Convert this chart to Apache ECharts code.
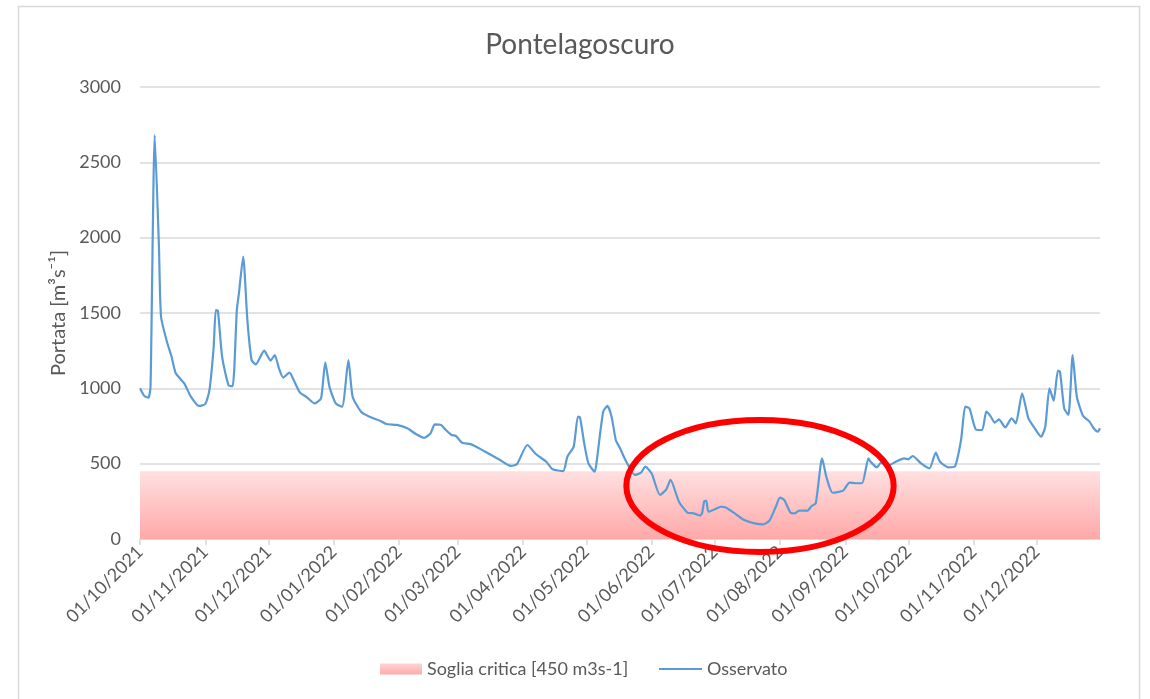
<!DOCTYPE html>
<html>
<head>
<meta charset="utf-8">
<script src="https://cdn.jsdelivr.net/npm/echarts@6/dist/echarts.min.js"></script>
<style>
  html, body { margin: 0; padding: 0; background: #fff; }
  #chart { width: 1150px; height: 699px; }
</style>
</head>
<body>
<div id="chart"></div>
<script>
const dates = [
  "2021-10-01", "2021-10-03", "2021-10-05", "2021-10-06", "2021-10-08", "2021-10-10", "2021-10-11",
  "2021-10-14", "2021-10-16", "2021-10-18", "2021-10-22", "2021-10-25", "2021-10-29",
  "2021-11-01", "2021-11-03", "2021-11-05", "2021-11-06", "2021-11-07", "2021-11-09", "2021-11-12",
  "2021-11-14", "2021-11-16", "2021-11-17", "2021-11-19", "2021-11-21", "2021-11-23", "2021-11-25",
  "2021-11-29", "2021-12-02", "2021-12-04", "2021-12-06", "2021-12-08", "2021-12-11", "2021-12-13",
  "2021-12-16", "2021-12-19", "2021-12-23", "2021-12-26", "2021-12-28", "2021-12-30",
  "2022-01-02", "2022-01-05", "2022-01-08", "2022-01-10", "2022-01-14", "2022-01-18", "2022-01-23",
  "2022-01-26", "2022-01-31", "2022-02-05", "2022-02-09", "2022-02-13", "2022-02-16", "2022-02-18",
  "2022-02-21", "2022-02-23", "2022-02-26", "2022-02-28", "2022-03-03", "2022-03-07", "2022-03-09",
  "2022-03-12", "2022-03-16", "2022-03-21", "2022-03-26", "2022-03-29", "2022-04-03", "2022-04-07",
  "2022-04-12", "2022-04-15", "2022-04-20", "2022-04-22", "2022-04-25", "2022-04-27", "2022-04-28",
  "2022-04-30", "2022-05-02", "2022-05-05", "2022-05-06", "2022-05-09", "2022-05-11", "2022-05-13",
  "2022-05-15", "2022-05-17", "2022-05-20", "2022-05-24", "2022-05-27", "2022-05-29", "2022-06-01",
  "2022-06-05", "2022-06-08", "2022-06-10", "2022-06-14", "2022-06-18", "2022-06-21", "2022-06-24",
  "2022-06-25", "2022-06-26", "2022-06-27", "2022-06-28", "2022-07-02", "2022-07-04", "2022-07-06",
  "2022-07-10", "2022-07-15", "2022-07-20", "2022-07-24", "2022-07-27", "2022-07-30", "2022-08-01",
  "2022-08-03", "2022-08-06", "2022-08-08", "2022-08-10", "2022-08-14", "2022-08-16", "2022-08-18",
  "2022-08-21", "2022-08-23", "2022-08-26", "2022-08-31", "2022-09-03", "2022-09-06", "2022-09-09",
  "2022-09-12", "2022-09-13", "2022-09-16", "2022-09-18", "2022-09-21", "2022-09-25", "2022-09-29",
  "2022-10-01", "2022-10-03", "2022-10-07", "2022-10-11", "2022-10-14", "2022-10-16", "2022-10-20",
  "2022-10-23", "2022-10-26", "2022-10-28", "2022-10-30", "2022-11-02", "2022-11-05", "2022-11-07",
  "2022-11-09", "2022-11-11", "2022-11-13", "2022-11-16", "2022-11-19", "2022-11-21", "2022-11-24",
  "2022-11-27", "2022-11-30", "2022-12-03", "2022-12-05", "2022-12-07", "2022-12-09", "2022-12-11",
  "2022-12-12", "2022-12-14", "2022-12-16", "2022-12-18", "2022-12-20", "2022-12-23", "2022-12-26",
  "2022-12-28", "2022-12-30", "2022-12-31"
];
const osservato = [
  1000, 950, 938, 1011, 2681, 1940, 1475,
  1299, 1210, 1100, 1033, 949, 883,
  896, 989, 1276, 1520, 1515, 1210, 1022,
  1015, 1520, 1632, 1874, 1453, 1188, 1159,
  1250, 1184, 1221, 1133, 1071, 1104, 1055,
  971, 944, 900, 934, 1173, 1011,
  900, 878, 1188, 944, 845, 812, 785,
  763, 757, 735, 697, 672, 701, 761,
  757, 728, 690, 684, 639, 630, 617,
  595, 564, 524, 485, 496, 624, 564,
  513, 463, 451, 546, 613, 812, 807,
  635, 502, 447, 524, 845, 883, 812,
  657, 602, 513, 425, 440, 480, 436,
  292, 330, 392, 248, 175, 170, 155,
  172, 250, 254, 181, 204, 214, 210,
  175, 126, 104, 97, 122, 214, 274,
  259, 175, 170, 188, 188, 219, 237,
  535, 413, 307, 321, 374, 370, 370,
  535, 513, 476, 507, 485, 513, 535,
  529, 551, 502, 469, 573, 513, 476,
  480, 657, 878, 867, 728, 723, 845,
  816, 772, 794, 741, 801, 768, 967,
  801, 735, 679, 745, 1000, 918, 1117,
  1110, 867, 823, 1221, 944, 816, 779,
  735, 712, 735
];

// soglia critica
const sogliaDates = ["2021-10-01", "2022-12-31"];
const sogliaValues = [450, 450];

// zona evidenziata (ellisse rossa): estremi in date e portata
const ellisseDates = ["2022-05-20", "2022-09-24"];
const ellisseValues = [-86, 790];

const yTicks = { min: 0, max: 3000, interval: 500 };

const chart = echarts.init(document.getElementById("chart"));
const fontFamily = "Lato, 'Open Sans', sans-serif";
const grigio = "#595959";
const blu = "#5b9bd5";

const option = {
  animation: false,
  textStyle: { fontFamily: fontFamily },
  title: {
    text: "Pontelagoscuro",
    left: 575,
    top: 26,
    textAlign: "center",
    textStyle: { color: grigio, fontSize: 28, fontWeight: "normal", fontFamily: fontFamily }
  },
  legend: [
    {
      left: 375,
      top: 655,
      itemWidth: 42,
      itemHeight: 11,
      textStyle: { color: grigio, fontSize: 18, fontFamily: fontFamily },
      data: [
        {
          name: "Soglia critica [450 m3s-1]",
          icon: "rect",
          itemStyle: {
            color: new echarts.graphic.LinearGradient(0, 0, 0, 1, [
              { offset: 0, color: "#ffd2d3" },
              { offset: 1, color: "#ffabab" }
            ])
          }
        }
      ]
    },
    {
      left: 654,
      top: 655,
      itemWidth: 43,
      itemHeight: 2,
      textStyle: { color: grigio, fontSize: 18, fontFamily: fontFamily },
      data: [{ name: "Osservato", icon: "rect", itemStyle: { color: blu } }]
    }
  ],
  grid: { left: 140, right: 50, top: 87, bottom: 160 },
  xAxis: {
    type: "time",
    min: dates[0],
    max: sogliaDates[1],
    splitNumber: 15,
    minInterval: 28 * 86400000,
    maxInterval: 31 * 86400000,
    axisLine: { lineStyle: { color: "#d9d9d9", width: 1.5 } },
    axisTick: { show: true, length: 6, lineStyle: { color: "#d9d9d9", width: 1.5 } },
    splitLine: { show: false },
    axisLabel: {
      rotate: 45,
      color: grigio,
      fontSize: 18,
      margin: 10,
      hideOverlap: false,
      showMaxLabel: false,
      formatter: function (v) {
        return echarts.time.format(v, "{dd}/{MM}/{yyyy}", false);
      }
    }
  },
  yAxis: {
    type: "value",
    min: yTicks.min,
    max: yTicks.max,
    interval: yTicks.interval,
    name: "Portata [m³s⁻¹]",
    nameLocation: "middle",
    nameGap: 63,
    nameTextStyle: { color: grigio, fontSize: 20, fontFamily: fontFamily },
    axisLine: { show: false },
    axisTick: { show: false },
    axisLabel: {
      color: grigio,
      fontSize: 18,
      margin: 19,
      formatter: function (v) { return String(v); }
    },
    splitLine: { lineStyle: { color: "#d9d9d9", width: 1.5 } }
  },
  series: [
    {
      name: "Soglia critica [450 m3s-1]",
      type: "line",
      symbol: "none",
      lineStyle: { width: 0 },
      itemStyle: { color: "#ffabab" },
      areaStyle: {
        opacity: 1,
        color: new echarts.graphic.LinearGradient(0, 0, 0, 1, [
          { offset: 0, color: "#ffe0e1" },
          { offset: 1, color: "#ffa8a8" }
        ])
      },
      z: 1,
      data: sogliaDates.map((d, i) => [d, sogliaValues[i]])
    },
    {
      name: "Osservato",
      type: "line",
      symbol: "none",
      smooth: 0.2,
      lineStyle: { color: blu, width: 2.2 },
      itemStyle: { color: blu },
      z: 3,
      data: dates.map((d, i) => [d, osservato[i]])
    }
  ]
};

chart.setOption(option);

// cornice del grafico + ellisse rossa posizionata con le coordinate degli assi
const p0 = chart.convertToPixel({ seriesIndex: 1 }, [ellisseDates[0], ellisseValues[1]]);
const p1 = chart.convertToPixel({ seriesIndex: 1 }, [ellisseDates[1], ellisseValues[0]]);
chart.setOption({
  graphic: [
    {
      type: "rect",
      z: 0,
      silent: true,
      shape: { x: 18.5, y: 6.5, width: 1121, height: 700 },
      style: { fill: "none", stroke: "#d9d9d9", lineWidth: 1.5 }
    },
    {
      type: "ellipse",
      z: 100,
      silent: true,
      shape: {
        cx: (p0[0] + p1[0]) / 2,
        cy: (p0[1] + p1[1]) / 2,
        rx: Math.abs(p1[0] - p0[0]) / 2,
        ry: Math.abs(p1[1] - p0[1]) / 2
      },
      style: { fill: "none", stroke: "#ff0000", lineWidth: 6 }
    }
  ]
});
</script>
</body>
</html>
